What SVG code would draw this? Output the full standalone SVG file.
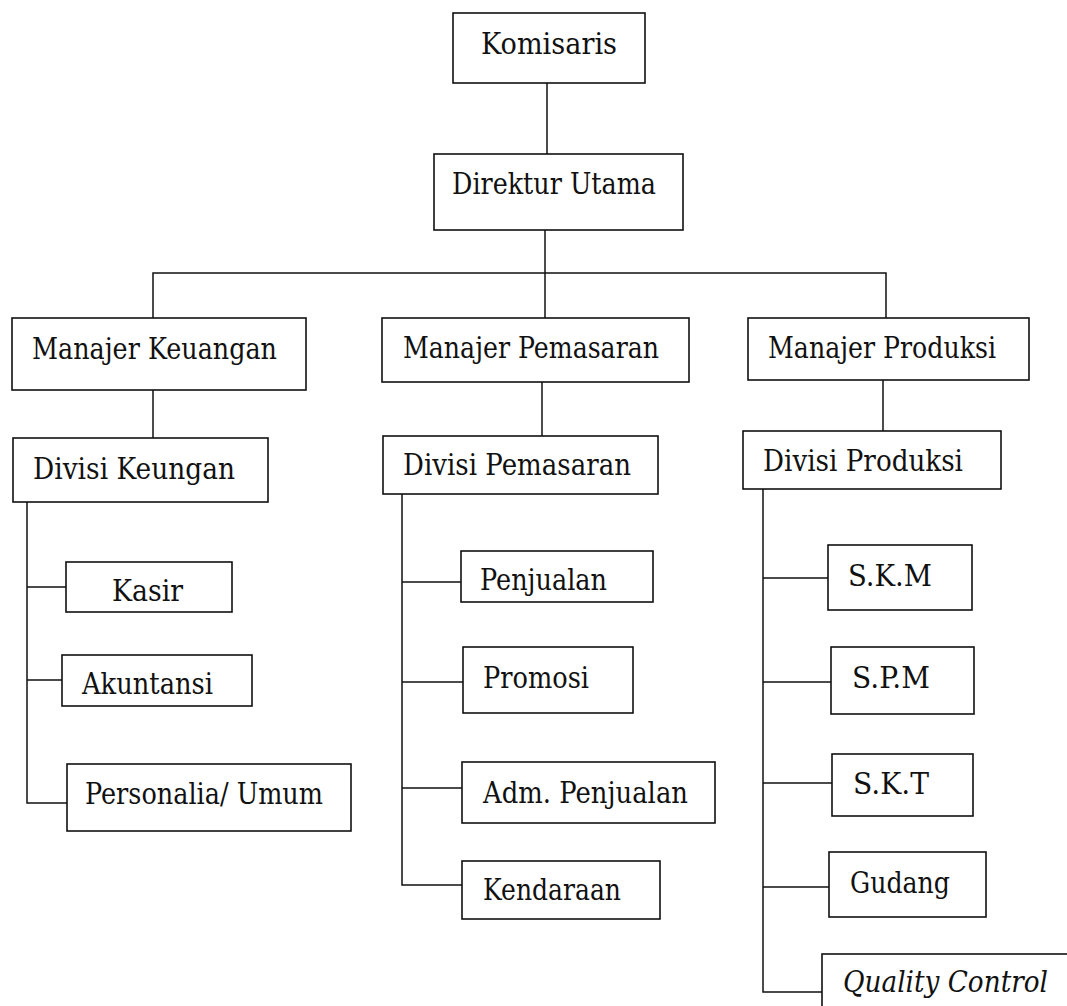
<svg xmlns="http://www.w3.org/2000/svg" width="1067" height="1006" viewBox="0 0 1067 1006">
<style>
rect.box{fill:#fff;stroke:#111;stroke-width:1.6}
text{font-size:30px;fill:#111}
#connectors path{fill:none;stroke:#111;stroke-width:1.5}
</style>
<rect width="1067" height="1006" fill="#fff"/>
<g id="connectors">
<path d="M547 83V155"/>
<path d="M545 230V318"/>
<path d="M153 318V273H886V318"/>
<path d="M153 390V438"/>
<path d="M542 382V436"/>
<path d="M883 380V431"/>
<path d="M27 502V803H67M27 587H66M27 680H62"/>
<path d="M402 494V885H462M402 582H461M402 682H463M402 788H462"/>
<path d="M763 489V992H822M763 578H828M763 682H831M763 783H832M763 887H829"/>
</g>
<g font-family="'DejaVu Serif', 'Liberation Serif', serif">
<g id="komisaris"><rect class="box" x="453" y="13" width="192" height="70"/><text x="481" y="54" textLength="136" lengthAdjust="spacingAndGlyphs">Komisaris</text></g>
<g id="direktur"><rect class="box" x="434" y="154" width="249" height="76"/><text x="452" y="194" textLength="204" lengthAdjust="spacingAndGlyphs">Direktur Utama</text></g>
<g id="mgr-keuangan"><rect class="box" x="12" y="318" width="294" height="72"/><text x="32" y="359" textLength="245" lengthAdjust="spacingAndGlyphs">Manajer Keuangan</text></g>
<g id="mgr-pemasaran"><rect class="box" x="382" y="318" width="307" height="64"/><text x="403" y="358" textLength="256" lengthAdjust="spacingAndGlyphs">Manajer Pemasaran</text></g>
<g id="mgr-produksi"><rect class="box" x="748" y="318" width="281" height="62"/><text x="768" y="358" textLength="228" lengthAdjust="spacingAndGlyphs">Manajer Produksi</text></g>
<g id="div-keuangan"><rect class="box" x="13" y="438" width="255" height="64"/><text x="33" y="479" textLength="202" lengthAdjust="spacingAndGlyphs">Divisi Keungan</text></g>
<g id="div-pemasaran"><rect class="box" x="383" y="436" width="275" height="58"/><text x="403" y="475" textLength="228" lengthAdjust="spacingAndGlyphs">Divisi Pemasaran</text></g>
<g id="div-produksi"><rect class="box" x="743" y="431" width="258" height="58"/><text x="763" y="471" textLength="200" lengthAdjust="spacingAndGlyphs">Divisi Produksi</text></g>
<g id="kasir"><rect class="box" x="66" y="562" width="166" height="50"/><text x="112" y="601" textLength="71" lengthAdjust="spacingAndGlyphs">Kasir</text></g>
<g id="akuntansi"><rect class="box" x="62" y="655" width="190" height="51"/><text x="82" y="694" textLength="131" lengthAdjust="spacingAndGlyphs">Akuntansi</text></g>
<g id="personalia"><rect class="box" x="67" y="764" width="284" height="67"/><text x="85" y="804" textLength="238" lengthAdjust="spacingAndGlyphs">Personalia/ Umum</text></g>
<g id="penjualan"><rect class="box" x="461" y="551" width="192" height="51"/><text x="480" y="590" textLength="127" lengthAdjust="spacingAndGlyphs">Penjualan</text></g>
<g id="promosi"><rect class="box" x="463" y="647" width="170" height="66"/><text x="483" y="688" textLength="106" lengthAdjust="spacingAndGlyphs">Promosi</text></g>
<g id="adm-penjualan"><rect class="box" x="462" y="762" width="253" height="61"/><text x="483" y="803" textLength="205" lengthAdjust="spacingAndGlyphs">Adm. Penjualan</text></g>
<g id="kendaraan"><rect class="box" x="462" y="861" width="198" height="58"/><text x="483" y="900" textLength="138" lengthAdjust="spacingAndGlyphs">Kendaraan</text></g>
<g id="skm"><rect class="box" x="828" y="545" width="144" height="65"/><text x="848" y="586" textLength="84" lengthAdjust="spacingAndGlyphs">S.K.M</text></g>
<g id="spm"><rect class="box" x="831" y="647" width="143" height="67"/><text x="852" y="688" textLength="78" lengthAdjust="spacingAndGlyphs">S.P.M</text></g>
<g id="skt"><rect class="box" x="832" y="754" width="141" height="62"/><text x="853" y="794" textLength="76" lengthAdjust="spacingAndGlyphs">S.K.T</text></g>
<g id="gudang"><rect class="box" x="829" y="852" width="157" height="65"/><text x="850" y="893" textLength="100" lengthAdjust="spacingAndGlyphs">Gudang</text></g>
<g id="qc"><rect class="box" x="822" y="954" width="260" height="70"/><text x="843" y="992" font-style="italic" textLength="205" lengthAdjust="spacingAndGlyphs">Quality Control</text></g>
</g>
</svg>
